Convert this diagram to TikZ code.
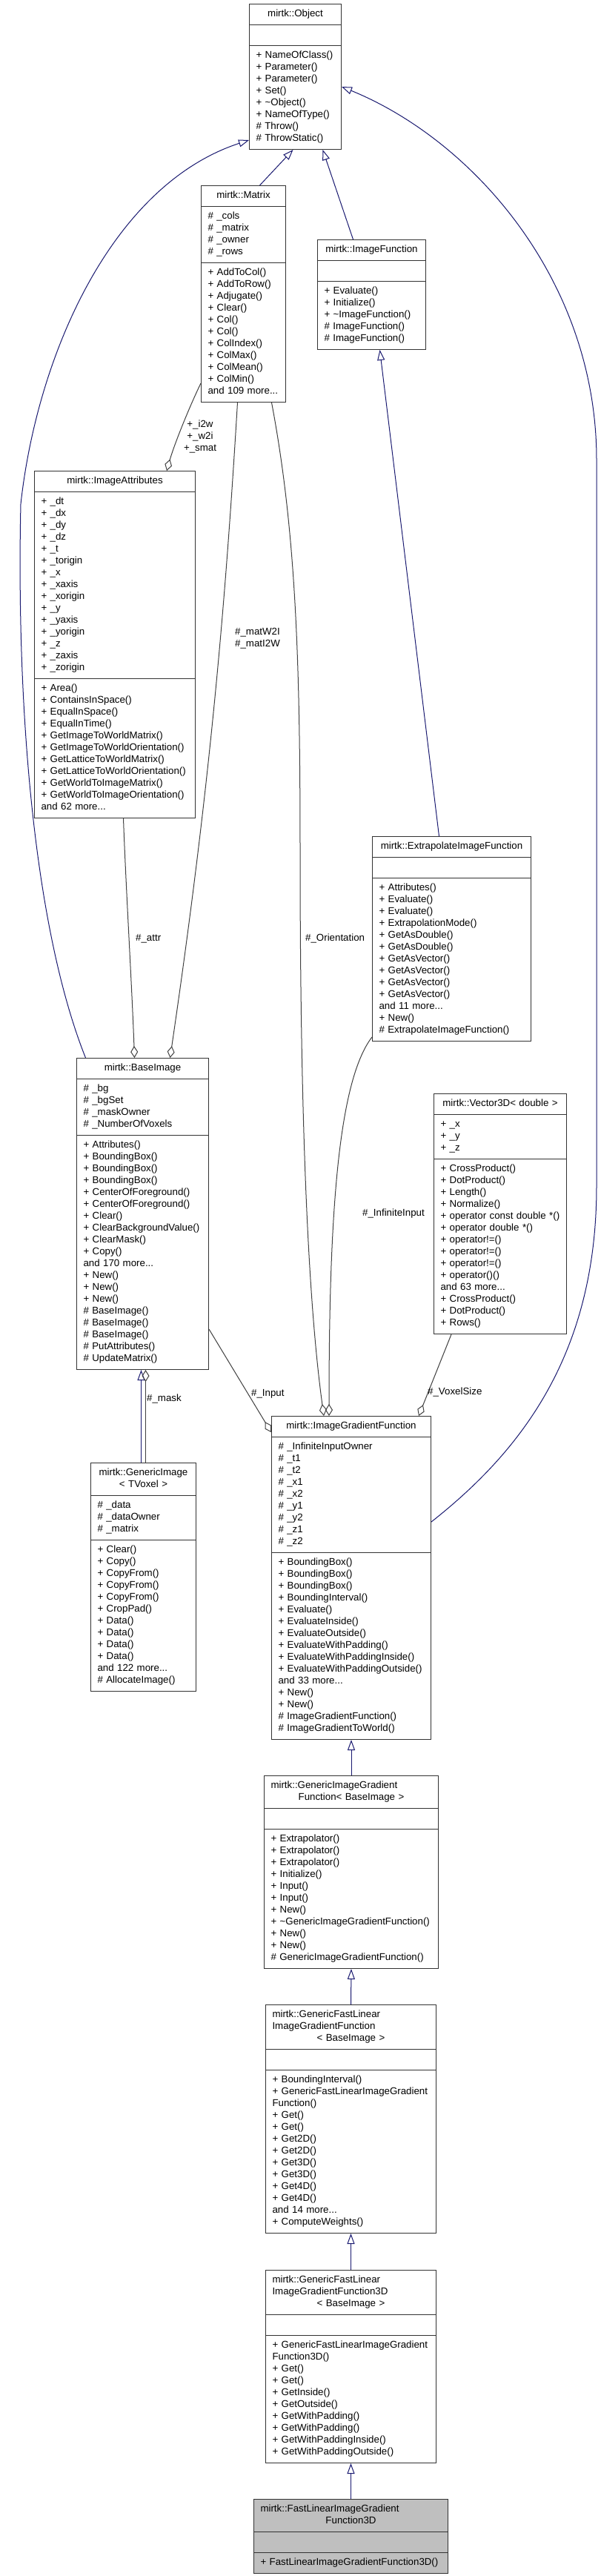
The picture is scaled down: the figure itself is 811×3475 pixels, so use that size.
\documentclass[tikz,border=0pt]{standalone}
\usepackage{fontspec}
\setmainfont{Liberation Sans}
\usetikzlibrary{shapes.multipart, arrows.meta}
\definecolor{inhblue}{HTML}{191970}
\definecolor{edgegray}{HTML}{404040}
\definecolor{curfill}{HTML}{BFBFBF}
\newcommand{\ctrline}[1]{\makebox[\hsize]{#1}}
\tikzset{
    cls/.style={rectangle split, rectangle split parts=3, draw=black!80, line width=1pt, fill=white, anchor=north west, align=left, inner xsep=9pt, inner ysep=5.5pt, font=\fontsize{13.3}{16}\selectfont},
    inherit/.style={draw=inhblue, line width=1pt, -{Triangle[open, length=14pt, width=10pt]}},
    member/.style={draw=edgegray, line width=1pt, -{Diamond[open, length=16pt, width=10pt]}},
    elabel/.style={font=\fontsize{13.3}{16}\selectfont, inner sep=0pt, anchor=west, align=left}
}

\begin{document}
\begin{tikzpicture}[x=1pt, y=-1pt]
        \fill[white] (0,0) rectangle (811,3475);
        \useasboundingbox (0,0) rectangle (811,3475);

        \node[cls, text width=106pt] (obj) at (336,5) {\ctrline{\strut mirtk::Object}\nodepart{two}\strut\nodepart{three}\strut + NameOfClass()\\+ Parameter()\\+ Parameter()\\+ Set()\\+ \textasciitilde Object()\\+ NameOfType()\\\# Throw()\\\# ThrowStatic()\strut};
        \node[cls, text width=96pt] (mat) at (271,250) {\ctrline{\strut mirtk::Matrix}\nodepart{two}\strut\# \_cols\\\# \_matrix\\\# \_owner\\\# \_rows\strut\nodepart{three}\strut + AddToCol()\\+ AddToRow()\\+ Adjugate()\\+ Clear()\\+ Col()\\+ Col()\\+ ColIndex()\\+ ColMax()\\+ ColMean()\\+ ColMin()\\and 109 more...\strut};
        \node[cls, text width=128pt] (ifn) at (428,323) {\ctrline{\strut mirtk::ImageFunction}\nodepart{two}\strut\nodepart{three}\strut + Evaluate()\\+ Initialize()\\+ \textasciitilde ImageFunction()\\\# ImageFunction()\\\# ImageFunction()\strut};
        \node[cls, text width=199pt] (attr) at (46,635) {\ctrline{\strut mirtk::ImageAttributes}\nodepart{two}\strut + \_dt\\+ \_dx\\+ \_dy\\+ \_dz\\+ \_t\\+ \_torigin\\+ \_x\\+ \_xaxis\\+ \_xorigin\\+ \_y\\+ \_yaxis\\+ \_yorigin\\+ \_z\\+ \_zaxis\\+ \_zorigin\strut\nodepart{three}\strut + Area()\\+ ContainsInSpace()\\+ EqualInSpace()\\+ EqualInTime()\\+ GetImageToWorldMatrix()\\+ GetImageToWorldOrientation()\\+ GetLatticeToWorldMatrix()\\+ GetLatticeToWorldOrientation()\\+ GetWorldToImageMatrix()\\+ GetWorldToImageOrientation()\\and 62 more...\strut};
        \node[cls, text width=196pt] (extr) at (502,1128) {\ctrline{\strut mirtk::ExtrapolateImageFunction}\nodepart{two}\strut\nodepart{three}\strut + Attributes()\\+ Evaluate()\\+ Evaluate()\\+ ExtrapolationMode()\\+ GetAsDouble()\\+ GetAsDouble()\\+ GetAsVector()\\+ GetAsVector()\\+ GetAsVector()\\+ GetAsVector()\\and 11 more...\\+ New()\\\# ExtrapolateImageFunction()\strut};
        \node[cls, text width=160pt] (bimg) at (103,1427) {\ctrline{\strut mirtk::BaseImage}\nodepart{two}\strut\# \_bg\\\# \_bgSet\\\# \_maskOwner\\\# \_NumberOfVoxels\strut\nodepart{three}\strut + Attributes()\\+ BoundingBox()\\+ BoundingBox()\\+ BoundingBox()\\+ CenterOfForeground()\\+ CenterOfForeground()\\+ Clear()\\+ ClearBackgroundValue()\\+ ClearMask()\\+ Copy()\\and 170 more...\\+ New()\\+ New()\\+ New()\\\# BaseImage()\\\# BaseImage()\\\# BaseImage()\\\# PutAttributes()\\\# UpdateMatrix()\strut};
        \node[cls, text width=161pt] (vec) at (585,1475) {\ctrline{\strut mirtk::Vector3D< double >}\nodepart{two}\strut + \_x\\+ \_y\\+ \_z\strut\nodepart{three}\strut + CrossProduct()\\+ DotProduct()\\+ Length()\\+ Normalize()\\+ operator const double *()\\+ operator double *()\\+ operator!=()\\+ operator!=()\\+ operator!=()\\+ operator()()\\and 63 more...\\+ CrossProduct()\\+ DotProduct()\\+ Rows()\strut};
        \node[cls, text width=124pt] (gimg) at (122,1973) {\ctrline{\strut mirtk::GenericImage}\\\ctrline{< TVoxel >\strut}\nodepart{two}\strut\# \_data\\\# \_dataOwner\\\# \_matrix\strut\nodepart{three}\strut + Clear()\\+ Copy()\\+ CopyFrom()\\+ CopyFrom()\\+ CopyFrom()\\+ CropPad()\\+ Data()\\+ Data()\\+ Data()\\+ Data()\\and 122 more...\\\# AllocateImage()\strut};
        \node[cls, text width=197pt] (grad) at (366,1910) {\ctrline{\strut mirtk::ImageGradientFunction}\nodepart{two}\strut\# \_InfiniteInputOwner\\\# \_t1\\\# \_t2\\\# \_x1\\\# \_x2\\\# \_y1\\\# \_y2\\\# \_z1\\\# \_z2\strut\nodepart{three}\strut + BoundingBox()\\+ BoundingBox()\\+ BoundingBox()\\+ BoundingInterval()\\+ Evaluate()\\+ EvaluateInside()\\+ EvaluateOutside()\\+ EvaluateWithPadding()\\+ EvaluateWithPaddingInside()\\+ EvaluateWithPaddingOutside()\\and 33 more...\\+ New()\\+ New()\\\# ImageGradientFunction()\\\# ImageGradientToWorld()\strut};
        \node[cls, text width=217pt] (ggrad) at (356,2395) {\strut mirtk::GenericImageGradient\\\ctrline{Function< BaseImage >\strut}\nodepart{two}\strut\nodepart{three}\strut + Extrapolator()\\+ Extrapolator()\\+ Extrapolator()\\+ Initialize()\\+ Input()\\+ Input()\\+ New()\\+ \textasciitilde GenericImageGradientFunction()\\+ New()\\+ New()\\\# GenericImageGradientFunction()\strut};
        \node[cls, text width=212pt] (gfl) at (358,2704) {\strut mirtk::GenericFastLinear\\ImageGradientFunction\\\ctrline{< BaseImage >\strut}\nodepart{two}\strut\nodepart{three}\strut + BoundingInterval()\\+ GenericFastLinearImageGradient\\Function()\\+ Get()\\+ Get()\\+ Get2D()\\+ Get2D()\\+ Get3D()\\+ Get3D()\\+ Get4D()\\+ Get4D()\\and 14 more...\\+ ComputeWeights()\strut};
        \node[cls, text width=212pt] (gfl3) at (358,3062) {\strut mirtk::GenericFastLinear\\ImageGradientFunction3D\\\ctrline{< BaseImage >\strut}\nodepart{two}\strut\nodepart{three}\strut + GenericFastLinearImageGradient\\Function3D()\\+ Get()\\+ Get()\\+ GetInside()\\+ GetOutside()\\+ GetWithPadding()\\+ GetWithPadding()\\+ GetWithPaddingInside()\\+ GetWithPaddingOutside()\strut};
        \node[cls, fill=curfill, text width=244pt] (fl3) at (342,3371) {\strut mirtk::FastLinearImageGradient\\\ctrline{Function3D\strut}\nodepart{two}\strut\nodepart{three}\strut + FastLinearImageGradientFunction3D()\strut};

        \draw[inherit] ([xshift=22pt]mat.north) -- ([xshift=-3pt]obj.south);
        \draw[inherit] ([xshift=-25pt]ifn.north) -- ([xshift=37pt]obj.south);
        \draw[inherit] ([xshift=-77pt]bimg.north) .. controls (45,1250) and (22,950) .. (28,680) .. controls (50,480) and (150,250) .. ([yshift=13pt]obj.south west);
        \draw[inherit] ([yshift=-143pt]grad.north east) .. controls (700,1960) and (805,1830) .. (805,1600) -- (805,620) .. controls (805,380) and (640,190) .. ([yshift=-112pt]obj.north east);
        \draw[inherit] ([xshift=-17pt]extr.north) -- ([xshift=11pt]ifn.south);
        \draw[inherit] ([xshift=-3pt]gimg.north) -- ([xshift=-2pt]bimg.south);
        \draw[inherit] (ggrad.north) -- (grad.south);
        \draw[inherit] (gfl.north) -- (ggrad.south);
        \draw[inherit] (gfl3.north) -- (gfl.south);
        \draw[inherit] (fl3.north) -- (gfl3.south);

        \draw[member] ([yshift=26pt]mat.south west) .. controls (255,550) and (235,600) .. ([xshift=70pt]attr.north);
        \draw[member] ([xshift=11.5pt]attr.south) .. controls (170,1200) and (178,1330) .. ([xshift=-11pt]bimg.north);
        \draw[member] ([xshift=-8pt]mat.south) .. controls (305,800) and (285,1050) .. ([xshift=37pt]bimg.north);
        \draw[member] ([xshift=38pt]mat.south) .. controls (400,720) and (405,900) .. (405,1150) .. controls (405,1500) and (415,1750) .. ([xshift=-37pt]grad.north);
        \draw[member] ([yshift=6pt]extr.south west) .. controls (455,1460) and (444,1650) .. ([xshift=-30pt]grad.north);
        \draw[member] ([yshift=55pt]bimg.south east) -- ([yshift=-22pt]grad.north west);
        \draw[member] ([xshift=-66pt]vec.south) -- ([xshift=91pt]grad.north);
        \draw[member] ([xshift=3pt]gimg.north) -- ([xshift=4pt]bimg.south);

        \node[elabel, anchor=center, align=center] (lsmat) at (270,589) {+\_i2w\\+\_w2i\\+\_smat};
        \node[elabel] (lattr) at (183,1266) {\#\_attr};
        \node[elabel] (lmatw) at (317,861) {\#\_matW2I\\\#\_matI2W};
        \node[elabel] (lorient) at (412,1266) {\#\_Orientation};
        \node[elabel] (linf) at (489,1637) {\#\_InfiniteInput};
        \node[elabel] (linput) at (339,1880) {\#\_Input};
        \node[elabel] (lvoxel) at (577,1878) {\#\_VoxelSize};
        \node[elabel] (lmask) at (198,1887) {\#\_mask};
    \end{tikzpicture}
\end{document}
